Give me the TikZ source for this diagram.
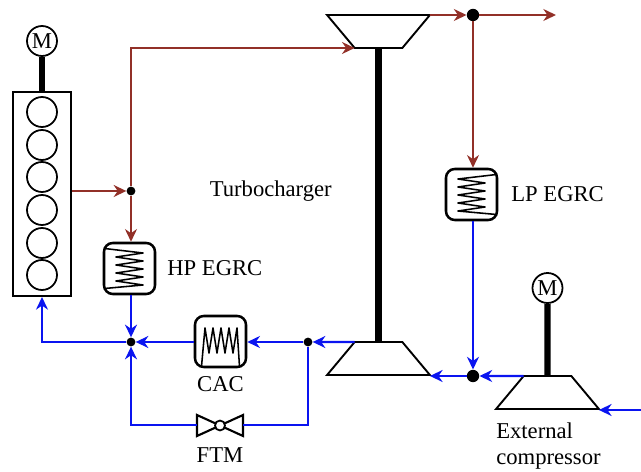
\documentclass[tikz,border=0pt]{standalone}
\usepackage{fontspec}
\setmainfont{Liberation Serif}
\usepackage[dvipsnames, svgnames, x11names]{xcolor}
\usetikzlibrary{shapes.geometric, arrows.meta, positioning}
\definecolor{gasbrown}{RGB}{146,48,40}
\definecolor{airblue}{RGB}{10,20,240}
\tikzset{
	label text/.style={font=\fontsize{16.1}{18.4}\selectfont, inner sep=0pt},
	motor/.style={draw, circle, line width=1.25pt, fill=white, minimum size=0.75cm, inner sep=0pt, font=\fontsize{16.1}{18.4}\selectfont},
	cylinder ring/.style={draw, circle, line width=1.25pt, minimum size=0.75cm, inner sep=0pt},
	exchanger/.style={draw, rectangle, rounded corners=2.2mm, line width=1.8pt, minimum size=1.275cm, inner sep=0pt},
	machine/.style={draw, trapezium, trapezium stretches=true, trapezium left angle=51.8, trapezium right angle=51.8,
		line width=1.35pt, minimum width=2.575cm, minimum height=0.825cm, inner sep=0pt, outer sep=0pt},
	shaft/.style={line width=4.6pt},
	small joint/.style={circle, fill=black, minimum size=0.22cm, inner sep=0pt},
	big joint/.style={circle, fill=black, minimum size=0.31cm, inner sep=0pt},
	gas/.style={gasbrown, line width=1.4pt, -{Stealth[length=9pt, width=8.5pt]}},
	air/.style={airblue, line width=1.5pt, -{Stealth[length=9pt, width=8.5pt]}},
	coil line/.style={line width=1.1pt, line join=round},
	pics/coilh/.style={code={
		\draw[coil line] (-25,-20) -- (13.5,-15.5) -- (-13.5,-11.5) -- (13.5,-7.5) -- (-13.5,-3.5) -- (13.5,0.5)
			-- (-13.5,4.5) -- (13.5,8.5) -- (-13.5,12.5) -- (13.5,16.5) -- (-25,20);
	}},
	pics/coilv/.style={code={
		\draw[coil line] (-19,25) -- (-15.5,-13.5) -- (-11.5,11.5) -- (-7.5,-13.5) -- (-3.5,11.5) -- (0.5,-13.5)
			-- (4.5,11.5) -- (8.5,-13.5) -- (12.5,11.5) -- (16.5,-13.5) -- (19,25);
	}},
}

\begin{document}
\begin{tikzpicture}[x=0.025cm, y=-0.025cm]
	\useasboundingbox (0,0) rectangle (641,472);

	% engine
	\node[draw, rectangle, line width=1.35pt, minimum width=1.45cm, minimum height=5.1cm, inner sep=0pt] (engine) at (42,194) {};
	\foreach \i/\y in {1/112, 2/145, 3/177, 4/210, 5/243, 6/275}
		\node[cylinder ring] (cyl\i) at (42,\y) {};
	\node[motor] (motorA) at (42,41) {M};
	\draw[shaft] (motorA) -- (engine);

	% turbocharger
	\node[machine, shape border rotate=180] (turbine) at (378.5,31.5) {\phantom{M}};
	\node[machine] (compressor) at (378.5,358.5) {\phantom{M}};
	\draw[shaft] (turbine.south) -- (compressor.north);
	\node[label text, anchor=west] (turbolabel) at (209.5,191.5) {Turbocharger};

	% external compressor
	\node[machine] (extcomp) at (547.5,392.5) {\phantom{M}};
	\node[motor] (motorB) at (547.5,288) {M};
	\draw[shaft] (motorB) -- (extcomp.north);
	\node[label text, anchor=north west, align=left] (extlabel) at (496,423) {External\\compressor};

	% coolers and valve
	\node[exchanger] (hpegrc) at (129.5,268.5) {};
	\pic at (hpegrc) {coilh};
	\node[label text, right=0.27cm of hpegrc] (hplabel) {HP EGRC};
	\node[exchanger] (lpegrc) at (471.5,194.5) {};
	\pic[xscale=-1] at (lpegrc) {coilh};
	\node[label text, right=0.32cm of lpegrc] (lplabel) {LP EGRC};
	\node[exchanger] (cac) at (220.5,341.5) {};
	\pic at (cac) {coilv};
	\node[label text] (caclabel) at (220.5,384) {CAC};
	\coordinate (ftml) at (197,425);
	\coordinate (ftmr) at (243,425);
	\draw[line width=1.5pt, line join=miter] (197,415) -- (243,436) -- (243,415) -- (197,436) -- cycle;
	\node[draw, circle, fill=white, line width=1.25pt, minimum size=0.25cm, inner sep=0pt] (ftm) at (220,425.5) {};
	\node[label text] (ftmlabel) at (220,455) {FTM};

	% junctions
	\node[small joint] (jengine) at (131,191) {};
	\node[big joint] (jturbine) at (473,15) {};
	\node[small joint] (jmix) at (131,342) {};
	\node[small joint] (jcac) at (308,342) {};
	\node[big joint] (jlp) at (473,376) {};
	\coordinate (exhaust) at (556,15);
	\coordinate (inlet) at (641,410);

	% exhaust side
	\draw[gas] (engine.east |- jengine) -- (jengine);
	\draw[gas] (jengine) |- (turbine.top right corner);
	\draw[gas] (jengine) -- (jengine |- hpegrc.north);
	\draw[gas] (turbine.bottom left corner) -- (jturbine);
	\draw[gas] (jturbine) -- (exhaust);
	\draw[gas] (jturbine) -- (jturbine |- lpegrc.north);

	% intake side
	\draw[air] (inlet) -- (inlet -| extcomp.bottom right corner);
	\draw[air] (extcomp.top left corner) -- (jlp);
	\draw[air] (jlp |- lpegrc.south) -- (jlp);
	\draw[air] (jlp) -- (jlp -| compressor.bottom right corner);
	\draw[air] (compressor.top left corner) -- (jcac);
	\draw[air] (jcac) -- (cac.east |- jcac);
	\draw[air] (cac.west |- jmix) -- (jmix);
	\draw[air] (jmix |- hpegrc.south) -- (jmix);
	\draw[air] (jcac) |- (ftmr) (ftml) -| (jmix);
	\draw[air] (jmix) -| (engine.south -| cyl1);
\end{tikzpicture}
\end{document}
